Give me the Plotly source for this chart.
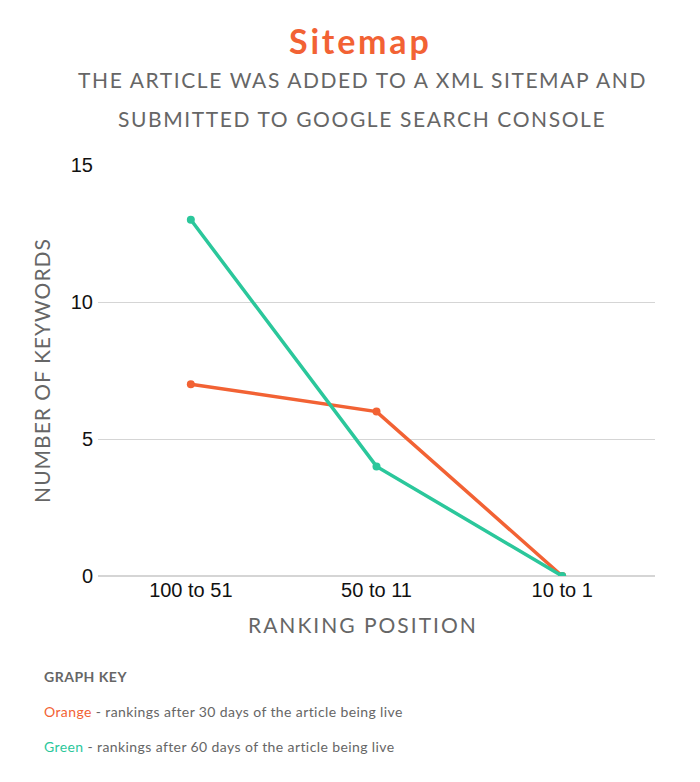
import plotly.graph_objects as go

categories = ["100 to 51", "50 to 11", "10 to 1"]
orange_values = [7, 6, 0]
green_values = [13, 4, 0]
y_ticks = [0, 5, 10, 15]

ORANGE = "#F26234"
GREEN = "#2BC79B"
GREY = "#666666"

W, H = 692, 774
L, R, T, B = 90, 45, 157, 206

def ls(text, px):
    return f"<span style='letter-spacing:{px}px'>{text}</span>"

fig = go.Figure()
fig.add_trace(go.Scatter(x=categories, y=orange_values, mode="lines+markers",
                         line=dict(color=ORANGE, width=3.5),
                         marker=dict(color=ORANGE, size=8), name="Orange"))
fig.add_trace(go.Scatter(x=categories, y=green_values, mode="lines+markers",
                         line=dict(color=GREEN, width=3.5),
                         marker=dict(color=GREEN, size=8), name="Green"))

fig.update_layout(
    width=W, height=H,
    margin=dict(l=L, r=R, t=T, b=B),
    paper_bgcolor="white", plot_bgcolor="white",
    showlegend=False,
    xaxis=dict(type="category", range=[-0.5, 2.5], showgrid=False, zeroline=False,
               showline=False, ticks="",
               tickfont=dict(family="Liberation Sans, Arial", size=20, color="#111111")),
    yaxis=dict(range=[0, 15], tickvals=y_ticks, showgrid=True, gridcolor="#D5D5D5",
               gridwidth=1, zeroline=True, zerolinecolor="#D5D5D5", zerolinewidth=2,
               ticks="", ticklabelstandoff=4,
               tickfont=dict(family="Liberation Sans, Arial", size=20, color="#111111"),
               title=dict(text=ls("NUMBER OF KEYWORDS", 1.0), standoff=14,
                          font=dict(family="Lato", size=21, color=GREY))),
)

def px_to_paper_y(py):
    return (H - B - (py - 8)) / (H - T - B)

def px_to_paper_x(px):
    return ((px - 8) - L) / (W - L - R)

def add_text(text, x, y, size, color, anchor="center"):
    fig.add_annotation(text=text, x=px_to_paper_x(x), y=px_to_paper_y(y),
                       xref="paper", yref="paper", xanchor=anchor, yanchor="middle",
                       showarrow=False, font=dict(family="Lato", size=size, color=color))

add_text("<b>" + ls("Sitemap", 2.8) + "</b>", 360, 40, 34, ORANGE)
add_text(ls("THE ARTICLE WAS ADDED TO A XML SITEMAP AND", 1.6), 362, 79, 21, GREY)
add_text(ls("SUBMITTED TO GOOGLE SEARCH CONSOLE", 1.6), 362, 118, 21, GREY)
add_text(ls("RANKING POSITION", 2.0), 363, 624, 21, GREY)
add_text("<b>" + ls("GRAPH KEY", 0.5) + "</b>", 42, 676, 14, GREY, "left")
add_text(f"<span style='color:{ORANGE}'>" + ls("Orange", 0.4) + "</span>" +
         ls(" - rankings after 30 days of the article being live", 0.4), 42, 711, 14, GREY, "left")
add_text(f"<span style='color:{GREEN}'>" + ls("Green", 0.4) + "</span>" +
         ls(" - rankings after 60 days of the article being live", 0.4), 42, 746, 14, GREY, "left")

fig.write_html("out.html")
